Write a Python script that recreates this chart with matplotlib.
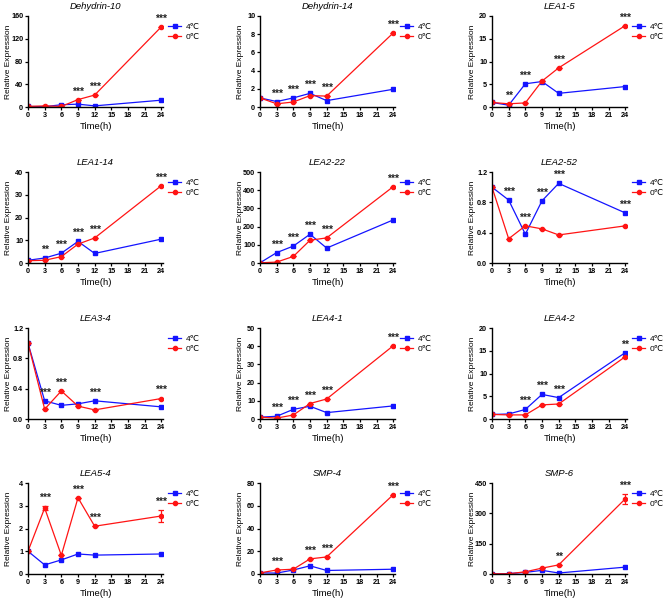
import matplotlib
matplotlib.use("Agg")
import matplotlib.pyplot as plt
from matplotlib.lines import Line2D

plt.rcParams['font.family'] = ['Liberation Sans', 'DejaVu Sans']

# time points (h)
hours = [0, 3, 6, 9, 12, 24]

genes = ["Dehydrin-10", "Dehydrin-14", "LEA1-5",
         "LEA1-14", "LEA2-22", "LEA2-52",
         "LEA3-4", "LEA4-1", "LEA4-2",
         "LEA5-4", "SMP-4", "SMP-6"]

# relative expression, 4C treatment
warm = [
    [1, 0.5, 4, 5, 2, 12],
    [1, 0.6, 1.0, 1.5, 0.7, 1.95],
    [1, 0.4, 5.1, 5.6, 3.0, 4.5],
    [1.2, 2.2, 4.3, 9.5, 4.2, 10.5],
    [1, 57, 93, 158, 82, 237],
    [1.0, 0.83, 0.38, 0.82, 1.05, 0.66],
    [1.0, 0.24, 0.18, 0.20, 0.24, 0.16],
    [1, 1.5, 5.3, 7.0, 3.5, 7.2],
    [1, 1.1, 2.1, 5.4, 4.7, 14.6],
    [1, 0.4, 0.62, 0.88, 0.83, 0.88],
    [1, 0.8, 3.5, 7.2, 3.1, 4.2],
    [1, 2, 8, 18, 5, 34],
]

# relative expression, 0C treatment
cold = [
    [1, 2, 1, 13, 21, 141],
    [1, 0.35, 0.55, 1.25, 1.2, 8.15],
    [1, 0.7, 0.9, 5.7, 8.6, 17.9],
    [1, 1.2, 2.8, 8.3, 11, 34],
    [1, 5, 36, 125, 138, 420],
    [1.0, 0.32, 0.49, 0.45, 0.37, 0.49],
    [1.0, 0.13, 0.37, 0.17, 0.12, 0.27],
    [1, 0.5, 2.2, 8.5, 11, 40.3],
    [1, 0.9, 0.9, 3.1, 3.3, 13.7],
    [1, 2.9, 0.82, 3.35, 2.1, 2.55],
    [1, 3.5, 4.2, 13.3, 15, 69.8],
    [1, 1, 11, 29, 45, 372],
]

# error bars on the 0C series (only visible ones)
cold_err = [
    [0] * 6, [0] * 6, [0] * 6, [0] * 6, [0] * 6, [0] * 6,
    [0] * 6, [0] * 6, [0] * 6,
    [0, 0.1, 0, 0, 0, 0.28],
    [0] * 6,
    [0, 0, 0, 0, 0, 25],
]

# significance marks per time point
stars = [
    ["", "", "", "***", "***", "***"],
    ["", "***", "***", "***", "***", "***"],
    ["", "**", "***", "", "***", "***"],
    ["", "**", "***", "***", "***", "***"],
    ["", "***", "***", "***", "***", "***"],
    ["", "***", "***", "***", "***", "***"],
    ["", "***", "***", "", "***", "***"],
    ["", "***", "***", "***", "***", "***"],
    ["", "", "***", "***", "***", "**"],
    ["", "***", "", "***", "***", "***"],
    ["", "***", "", "***", "***", "***"],
    ["", "", "", "", "**", "***"],
]

yticks = [
    [0, 40, 80, 120, 160],
    [0, 2, 4, 6, 8, 10],
    [0, 5, 10, 15, 20],
    [0, 10, 20, 30, 40],
    [0, 100, 200, 300, 400, 500],
    [0.0, 0.4, 0.8, 1.2],
    [0.0, 0.4, 0.8, 1.2],
    [0, 10, 20, 30, 40, 50],
    [0, 5, 10, 15, 20],
    [0, 1, 2, 3, 4],
    [0, 20, 40, 60, 80],
    [0, 150, 300, 450],
]

BLUE = '#1414ff'
RED = '#ff1414'

W, H = 665, 601
fig = plt.figure(figsize=(W / 100, H / 100), dpi=100)

col_left = [28, 260, 492]
row_top = [16, 172, 328, 483]
ax_w, ax_h = 135, 91

handles = [Line2D([], [], color=BLUE, marker='s', markersize=3.2, lw=0.9),
           Line2D([], [], color=RED, marker='o', markersize=3.0, lw=0.9)]

for i, gene in enumerate(genes):
    r, c = divmod(i, 3)
    left = col_left[c] / W
    bottom = 1 - (row_top[r] + ax_h) / H
    ax = fig.add_axes([left, bottom, ax_w / W, ax_h / H])

    ax.plot(hours, warm[i], color=BLUE, marker='s', markersize=3.2, lw=0.9)
    ax.errorbar(hours, cold[i], yerr=cold_err[i], color=RED, marker='o', markersize=3.0,
                lw=0.9, elinewidth=0.9, capsize=2, capthick=0.9)

    ymax = yticks[i][-1]
    for x, s, a, b, e in zip(hours, stars[i], warm[i], cold[i], cold_err[i]):
        if s:
            ax.text(x, max(a, b + e) + 0.035 * ymax, s, ha='center', va='bottom',
                    fontsize=7.5, fontweight='bold', color='#222222')

    ax.set_xlim(0, 24.3)
    ax.set_ylim(0, ymax)
    ax.set_xticks(range(0, 25, 3))
    ax.set_yticks(yticks[i])
    if isinstance(yticks[i][-1], float):
        ax.set_yticklabels([f"{t:.1f}" for t in yticks[i]])
    ax.spines['top'].set_visible(False)
    ax.spines['right'].set_visible(False)
    for sp in ('left', 'bottom'):
        ax.spines[sp].set_linewidth(1.0)
    ax.tick_params(direction='out', length=2.5, width=0.9, labelsize=5.2, pad=1.0)
    for lab in ax.get_xticklabels() + ax.get_yticklabels():
        lab.set_fontweight('bold')

    ax.set_title(gene, fontsize=6.8, style='italic', pad=5)
    ax.set_xlabel('Time(h)', fontsize=6.8, labelpad=2)
    ax.set_ylabel('Relative Expression', fontsize=6.0)
    ax.yaxis.set_label_coords(-0.12, 0.5)
    ax.legend(handles, ['4℃', '0℃'], loc='upper left', bbox_to_anchor=(1.0, 0.98),
              frameon=False, fontsize=6, handlelength=1.6, handletextpad=0.5,
              labelspacing=0.3, borderaxespad=0.2)

fig.savefig('out.png', dpi=100)
